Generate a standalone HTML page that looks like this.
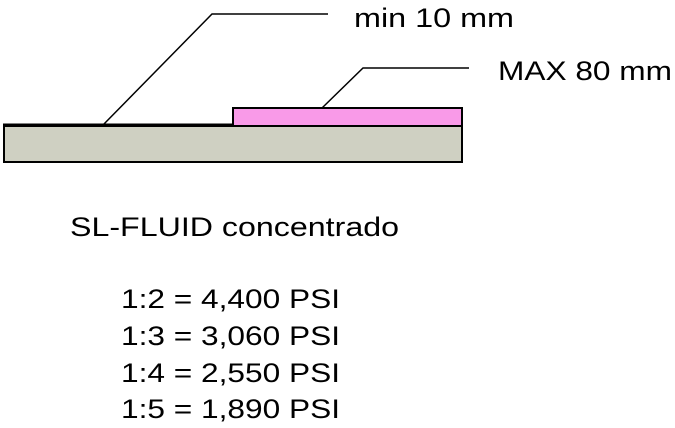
<!DOCTYPE html>
<html><head><meta charset="utf-8"><style>
html,body{margin:0;padding:0;background:#fff;}
svg{display:block;}
text{font-family:"Liberation Sans",Arial,sans-serif;font-size:27px;fill:#000;}
</style></head><body>
<svg width="675" height="428" viewBox="0 0 675 428" xmlns="http://www.w3.org/2000/svg">
<rect x="4" y="126" width="458" height="36" fill="#cfd0c2" stroke="#000" stroke-width="2"/>
<rect x="233" y="108" width="229" height="18" fill="#f99ae8" stroke="#000" stroke-width="2"/>
<line x1="3" y1="125" x2="234" y2="125" stroke="#000" stroke-width="3"/>
<polyline points="103,125 212,14 328,14" fill="none" stroke="#000" stroke-width="1.5"/>
<polyline points="322,108 363,68 469,68" fill="none" stroke="#000" stroke-width="1.5"/>
<text x="354" y="27" textLength="160" lengthAdjust="spacingAndGlyphs">min 10 mm</text>
<text x="498" y="80" textLength="174" lengthAdjust="spacingAndGlyphs">MAX 80 mm</text>
<text x="70" y="236" textLength="329" lengthAdjust="spacingAndGlyphs">SL-FLUID concentrado</text>
<text x="121" y="308" textLength="219" lengthAdjust="spacingAndGlyphs">1:2 = 4,400 PSI</text>
<text x="121" y="345" textLength="219" lengthAdjust="spacingAndGlyphs">1:3 = 3,060 PSI</text>
<text x="121" y="382" textLength="219" lengthAdjust="spacingAndGlyphs">1:4 = 2,550 PSI</text>
<text x="121" y="418" textLength="219" lengthAdjust="spacingAndGlyphs">1:5 = 1,890 PSI</text>
</svg>
</body></html>
